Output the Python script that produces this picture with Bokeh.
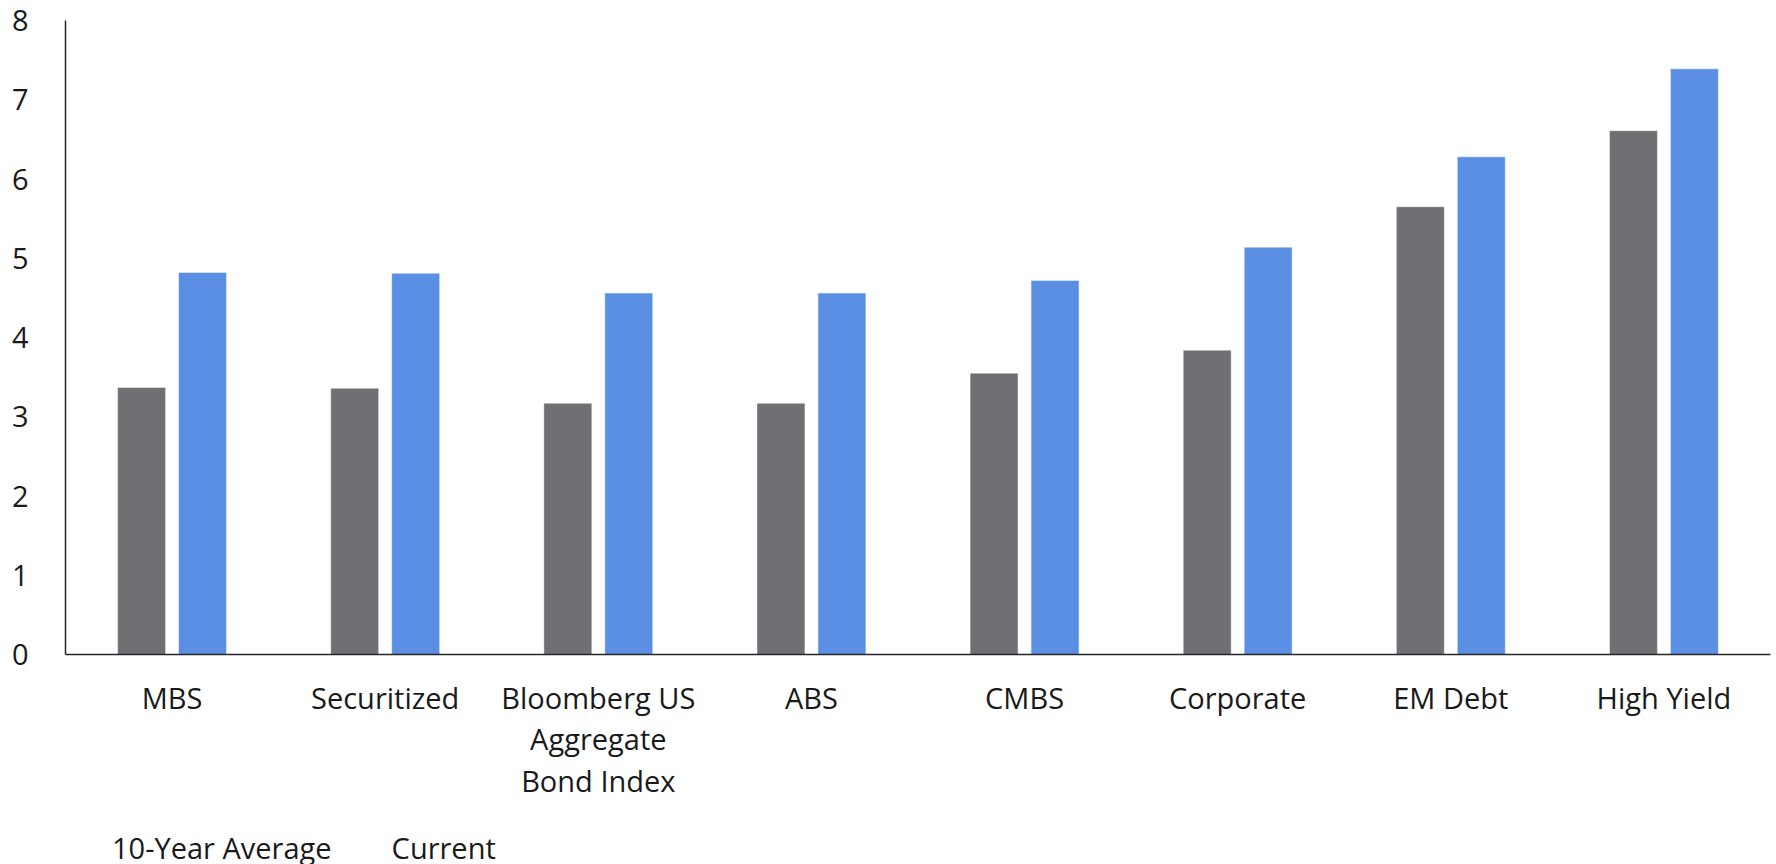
from bokeh.plotting import figure
from bokeh.layouts import column
from bokeh.models import (FactorRange, Range1d, FixedTicker, Legend, LegendItem,
                          ColumnDataSource)
from bokeh.transform import dodge
from bokeh.embed import file_html
from bokeh.resources import INLINE

categories = ["MBS", "Securitized", "Bloomberg US\nAggregate\nBond Index", "ABS",
              "CMBS", "Corporate", "EM Debt", "High Yield"]
avg_10yr = [3.37, 3.36, 3.17, 3.17, 3.55, 3.84, 5.65, 6.61]
current = [4.82, 4.81, 4.56, 4.56, 4.72, 5.14, 6.28, 7.39]
y_ticks = [0, 1, 2, 3, 4, 5, 6, 7, 8]
series_names = ["10-Year Average", "Current"]

FONT = "Open Sans"
GRAY = "#6f7074"
BLUE = "#5b8fe3"

src = ColumnDataSource(dict(cat=categories, avg=avg_10yr, cur=current))

# ---- main chart ----
p = figure(frame_width=1705, frame_height=634, output_backend="svg", toolbar_location=None,
           x_range=FactorRange(*categories, range_padding=0),
           y_range=Range1d(0, 8),
           min_border_left=65, min_border_right=6, min_border_top=20, min_border_bottom=170)

p.vbar(x=dodge("cat", -0.143, range=p.x_range), top="avg", width=0.225, source=src,
       fill_color=GRAY, line_color="white", line_alpha=0.45, line_width=1)
p.vbar(x=dodge("cat", 0.143, range=p.x_range), top="cur", width=0.225, source=src,
       fill_color=BLUE, line_color="white", line_alpha=0.45, line_width=1)

p.outline_line_color = None
p.xgrid.grid_line_color = None
p.ygrid.grid_line_color = None
p.background_fill_color = "white"
p.border_fill_color = "white"

for ax in (p.xaxis[0], p.yaxis[0]):
    ax.axis_line_color = "#262626"
    ax.axis_line_width = 1.5
    ax.major_tick_line_color = None
    ax.minor_tick_line_color = None
    ax.major_label_text_font = FONT
    ax.major_label_text_color = "#1a1a1a"
    ax.major_label_text_font_size = "29px"

p.yaxis[0].ticker = FixedTicker(ticks=y_ticks)
p.yaxis[0].major_label_standoff = 31
p.xaxis[0].major_label_standoff = 17
p.xaxis[0].major_label_text_line_height = 1.07

# ---- legend strip below the chart ----
leg = figure(width=1776, height=40, output_backend="svg", toolbar_location=None,
             x_range=Range1d(0, 1), y_range=Range1d(0, 1),
             min_border=0, min_border_left=0, min_border_right=0,
             min_border_top=0, min_border_bottom=0)
leg.axis.visible = False
leg.xgrid.grid_line_color = None
leg.ygrid.grid_line_color = None
leg.outline_line_color = None
leg.background_fill_color = "white"
leg.border_fill_color = "white"

empty = ColumnDataSource(dict(x=[], top=[]))
k1 = leg.vbar(x="x", top="top", width=0.1, source=empty, fill_color="#77787c", line_color=None)
k2 = leg.vbar(x="x", top="top", width=0.1, source=empty, fill_color=BLUE, line_color=None)

legend = Legend(items=[LegendItem(label=series_names[0], renderers=[k1]),
                       LegendItem(label=series_names[1], renderers=[k2])],
                orientation="horizontal", location=(17, -3),
                padding=0, margin=0, spacing=30, label_standoff=9,
                glyph_width=21, glyph_height=21,
                border_line_color=None, background_fill_alpha=0,
                label_text_font=FONT, label_text_font_size="29px",
                label_text_color="#1a1a1a")
leg.add_layout(legend, "center")

layout = column(p, leg, spacing=0)
open("out.html", "w").write(file_html(layout, INLINE))
